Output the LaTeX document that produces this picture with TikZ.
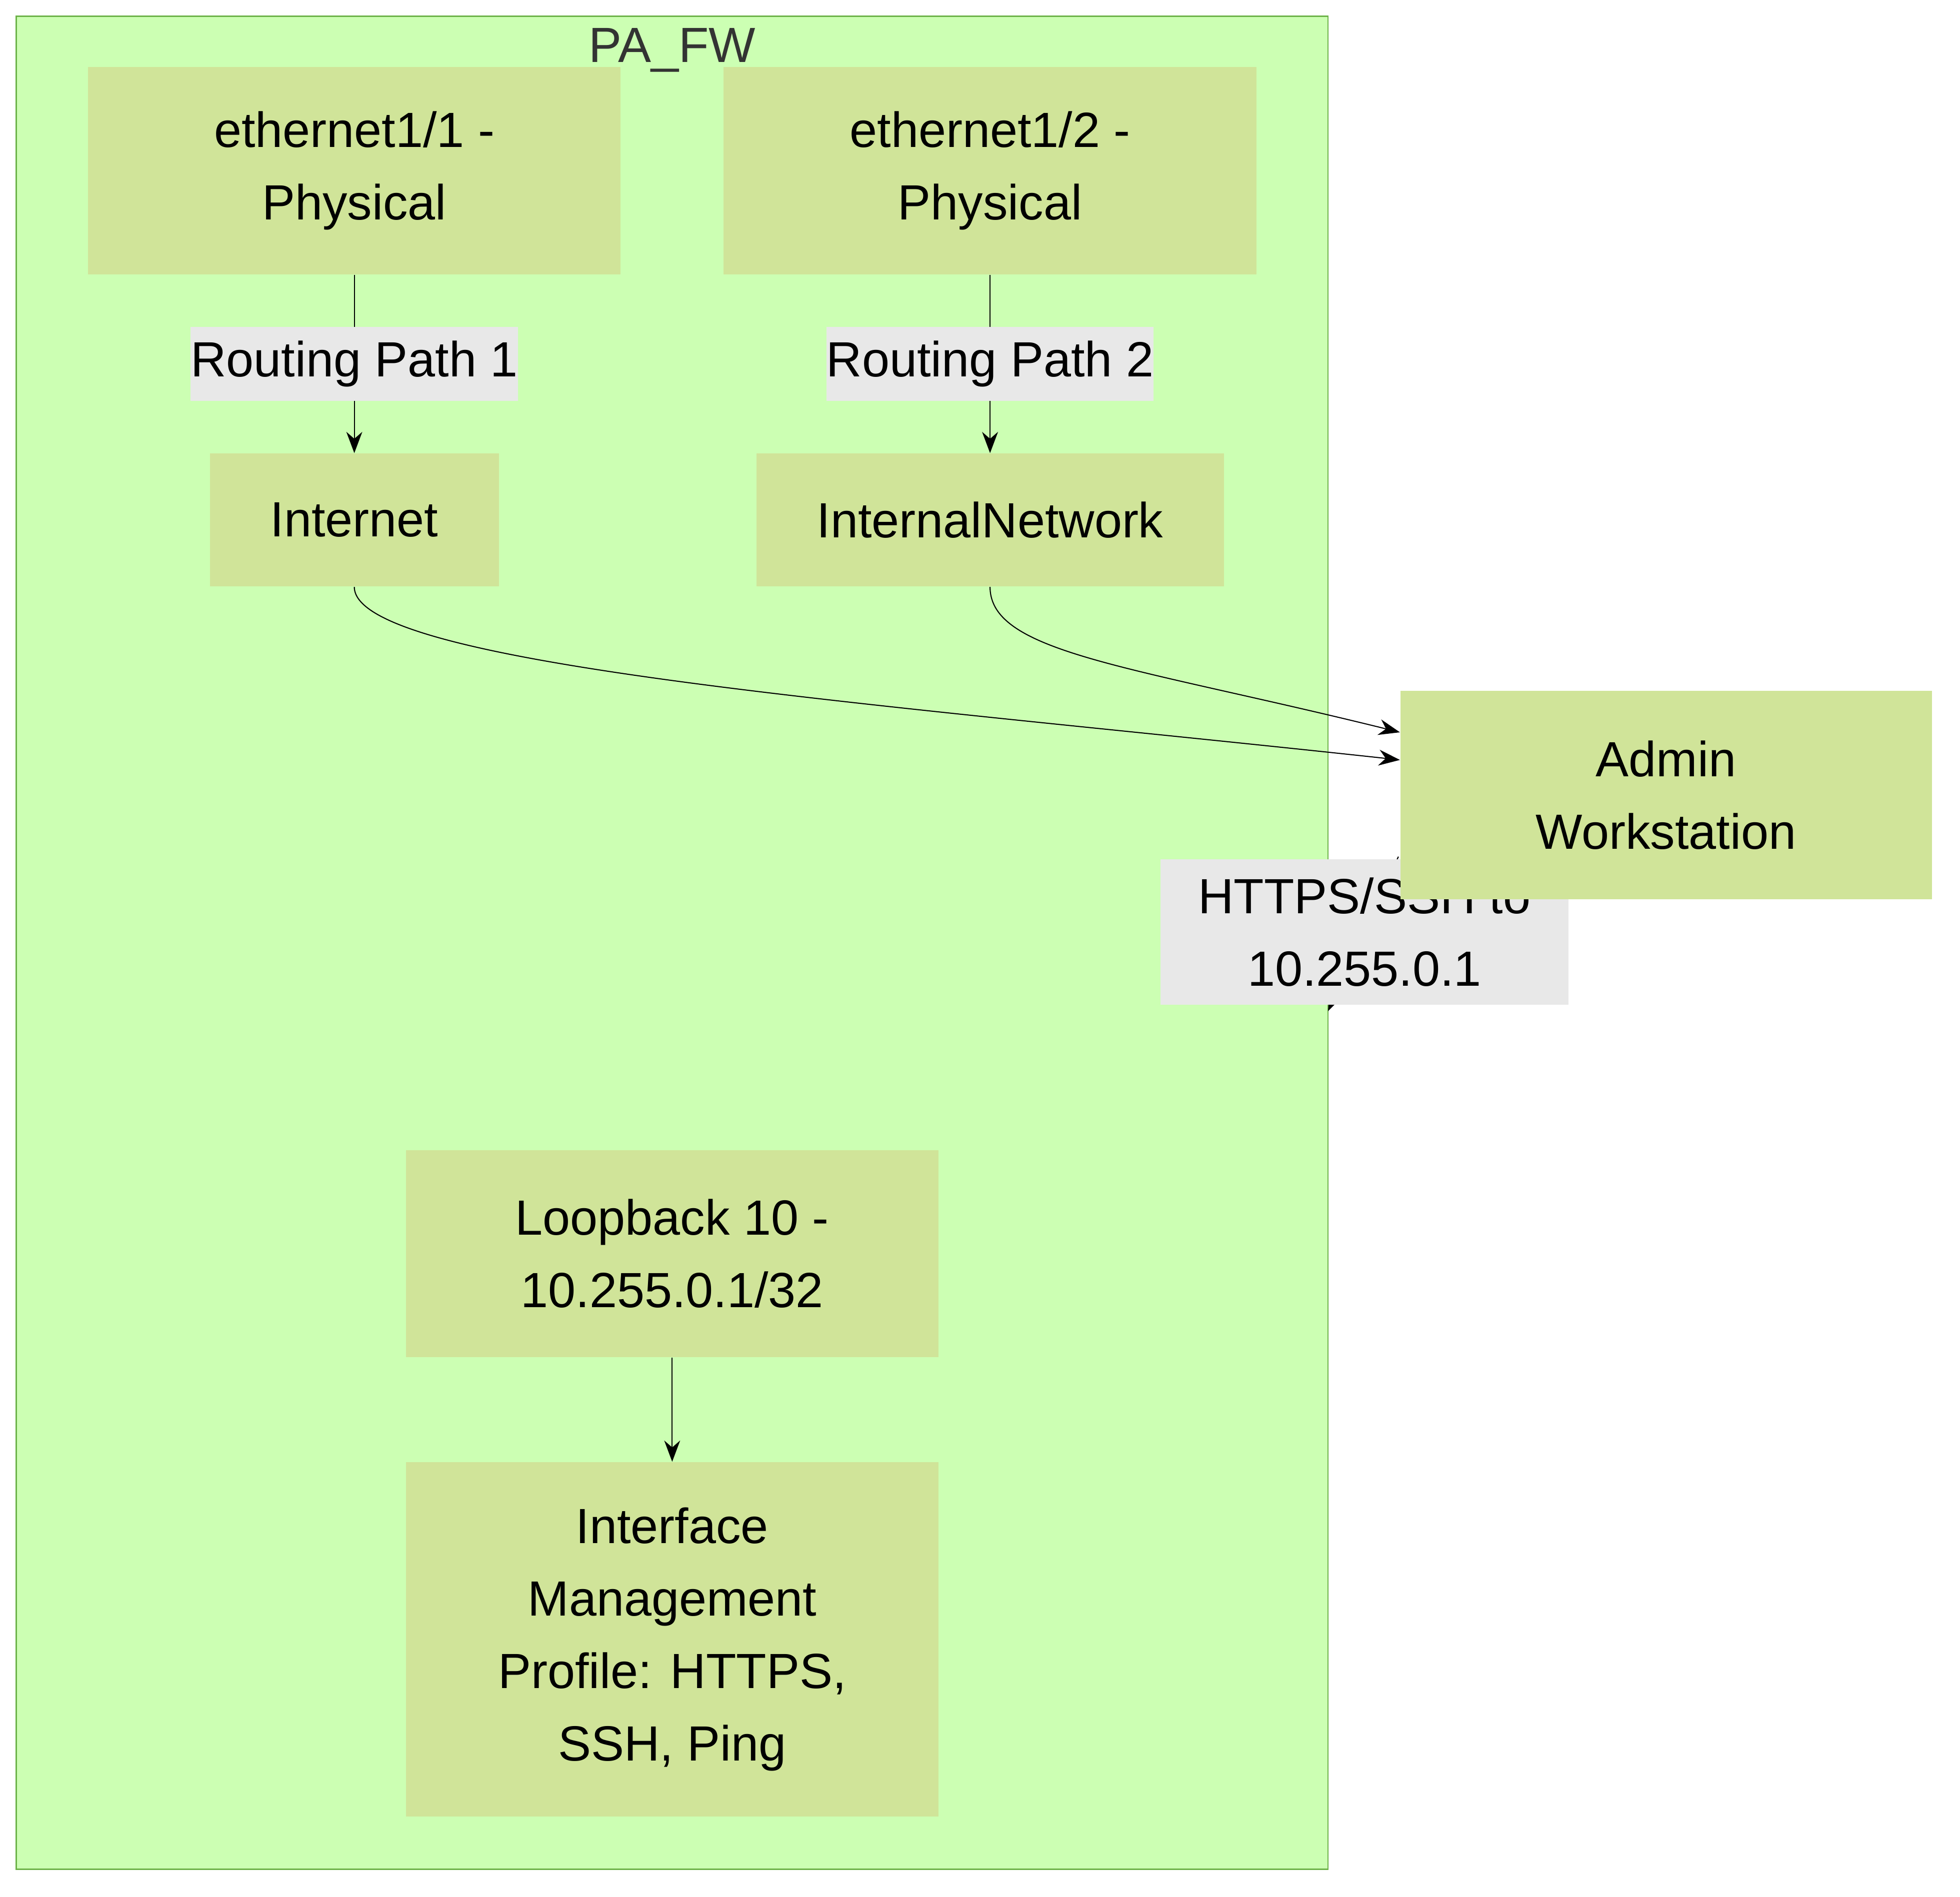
\documentclass[tikz,border=0pt]{standalone}
\usepackage{fontspec}
\setmainfont{Liberation Sans}
\usetikzlibrary{arrows.meta,positioning}
\definecolor{clusterfill}{HTML}{CCFFB3}
\definecolor{clusterline}{HTML}{6CB248}
\definecolor{boxfill}{HTML}{D0E499}
\definecolor{labelfill}{HTML}{E8E8E8}
\tikzset{
  box/.style={fill=boxfill, draw=none, align=center, inner sep=0pt, font=\fontsize{28}{41}\selectfont},
  lbl/.style={fill=labelfill, align=center, inner sep=0pt, font=\fontsize{28}{41}\selectfont},
  link/.style={-{Stealth[length=12pt,width=9pt]}, semithick}
}
\begin{document}
\begin{tikzpicture}[x=0.025cm, y=-0.025cm]
\useasboundingbox (0,0) rectangle (1560,1510);
% cluster
\draw[clusterline, fill=clusterfill, thick] (13,13) rectangle (1057,1488);
\node[font=\fontsize{28}{34}\selectfont, text=black!80] (title) at (535,40) {PA\_FW};

\node[box, minimum width=424*0.025cm, minimum height=165*0.025cm] (eth1) at (282,136) {ethernet1/1 -\\Physical};
\node[box, minimum width=424*0.025cm, minimum height=165*0.025cm] (eth2) at (788,136) {ethernet1/2 -\\Physical};
\node[box, minimum width=230*0.025cm, minimum height=106*0.025cm] (inet) at (282,414) {Internet};
\node[box, minimum width=372*0.025cm, minimum height=106*0.025cm] (intnet) at (788,414) {InternalNetwork};
\node[box, minimum width=424*0.025cm, minimum height=165*0.025cm] (loop) at (535,998) {Loopback 10 -\\10.255.0.1/32};
\node[box, minimum width=424*0.025cm, minimum height=282*0.025cm] (imp) at (535,1305) {Interface\\Management\\Profile: HTTPS,\\SSH, Ping};

\draw[link] (eth1) -- node[lbl, minimum width=258*0.025cm, minimum height=59*0.025cm] {Routing Path 1} (inet);
\draw[link] (eth2) -- node[lbl, minimum width=258*0.025cm, minimum height=59*0.025cm] {Routing Path 2} (intnet);
\draw[link] (loop) -- (imp);

% admin edge into the cluster
\coordinate (fwedge) at (1057,805);
\draw[link] (1113,682) -- (fwedge);
\node[lbl, minimum width=325*0.025cm, minimum height=116*0.025cm] (https) at (1086,742) {HTTPS/SSH to\\10.255.0.1};
\node[box, minimum width=423*0.025cm, minimum height=166*0.025cm] (admin) at (1326,633) {Admin\\Workstation};

\draw[link] (inet.south) .. controls (282,530) and (700,560) .. (admin.west |- 0,605);
\draw[link] (intnet.south) .. controls (788,520) and (900,530) .. (admin.west |- 0,583);
\end{tikzpicture}
\end{document}
